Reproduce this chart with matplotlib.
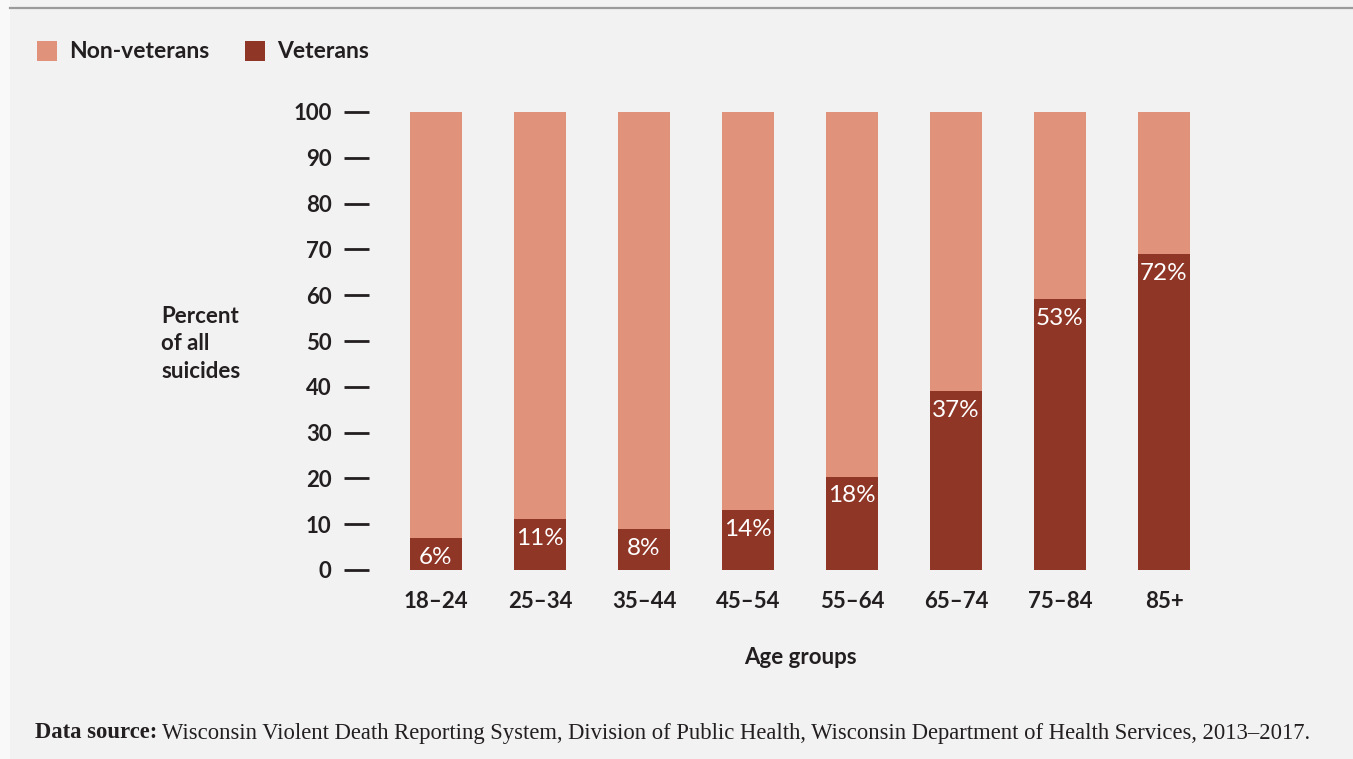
import matplotlib
matplotlib.use('Agg')
import matplotlib.pyplot as plt
from matplotlib.patches import Rectangle
from matplotlib.lines import Line2D

# data
age_groups = ['18–24', '25–34', '35–44', '45–54', '55–64', '65–74', '75–84', '85+']
veteran_height = [7.0, 11.1, 9.0, 13.1, 20.4, 39.1, 59.2, 69.0]   # drawn bar heights
veteran_label = ['6%', '11%', '8%', '14%', '18%', '37%', '53%', '72%']
yticks = [0, 10, 20, 30, 40, 50, 60, 70, 80, 90, 100]

NONVET = '#e0927a'
VET = '#8f3626'
BG = '#f2f2f2'
INK = '#231f20'

W, H = 1353, 759
fig = plt.figure(figsize=(W / 100, H / 100), dpi=100, facecolor=BG)

# white left strip and top rule
fig.patches.append(Rectangle((0, 0), 10 / W, 1, transform=fig.transFigure,
                             facecolor='#f9f9f9', edgecolor='none', zorder=0))
fig.add_artist(Line2D([10 / W, 1], [1 - 8 / H, 1 - 8 / H], color='#9a9a9a', lw=1.6))

ax_l, ax_r = 369, 1230
ax_b, ax_t = 570, 112
ax = fig.add_axes([ax_l / W, 1 - ax_b / H, (ax_r - ax_l) / W, (ax_b - ax_t) / H])
ax.set_facecolor('none')

x = list(range(len(age_groups)))
nonvet = [100 - v for v in veteran_height]
ax.bar(x, veteran_height, width=0.5, color=VET, linewidth=0)
ax.bar(x, nonvet, bottom=veteran_height, width=0.5, color=NONVET, linewidth=0)

for xi, h, lab in zip(x, veteran_height, veteran_label):
    ax.text(xi, h - 4.2, lab, ha='center', va='center', color='white',
            fontsize=17.5, family='Lato', fontweight='normal')

ax.set_xlim((ax_l - 436) / 104, (ax_r - 436) / 104)
ax.set_ylim(0, 100)
ax.set_yticks(yticks)
ax.set_yticklabels([str(t) for t in yticks], fontsize=16, family='Lato',
                   fontweight='bold', color=INK)
ax.tick_params(axis='y', direction='out', length=18, width=2, color=INK, pad=9)
ax.set_xticks(x)
ax.set_xticklabels(age_groups, fontsize=16, family='Lato', fontweight='bold', color=INK)
ax.tick_params(axis='x', length=0, pad=15)
for s in ax.spines.values():
    s.set_visible(False)

# y label
fig.text(161 / W, 1 - 344 / H, 'Percent\nof all\nsuicides', ha='left', va='center',
         fontsize=16, family='Lato', fontweight='bold', color=INK, linespacing=1.4)

# x label
fig.text(800 / W, 1 - 657 / H, 'Age groups', ha='center', va='center',
         fontsize=16, family='Lato', fontweight='bold', color=INK)

# legend
for x0, col, lab in [(37, NONVET, 'Non-veterans'), (245, VET, 'Veterans')]:
    fig.patches.append(Rectangle((x0 / W, 1 - 61 / H), 20 / W, 20 / H,
                                 transform=fig.transFigure, facecolor=col, edgecolor='none'))
    fig.text((x0 + 32) / W, 1 - 51 / H, lab, ha='left', va='center', fontsize=16.5,
             family='Lato', fontweight='bold', color=INK)

# source note
t1 = fig.text(35 / W, 1 - 733 / H, 'Data source:', ha='left', va='center', fontsize=16.3,
              family='Liberation Serif', fontweight='bold', color=INK)
fig.canvas.draw()
bb = t1.get_window_extent()
fig.text((bb.x1 + 5) / W, 1 - 733 / H,
         'Wisconsin Violent Death Reporting System, Division of Public Health, '
         'Wisconsin Department of Health Services, 2013–2017.',
         ha='left', va='center', fontsize=16.3, family='Liberation Serif', color=INK)

fig.savefig('out.png', dpi=100, facecolor=BG)
